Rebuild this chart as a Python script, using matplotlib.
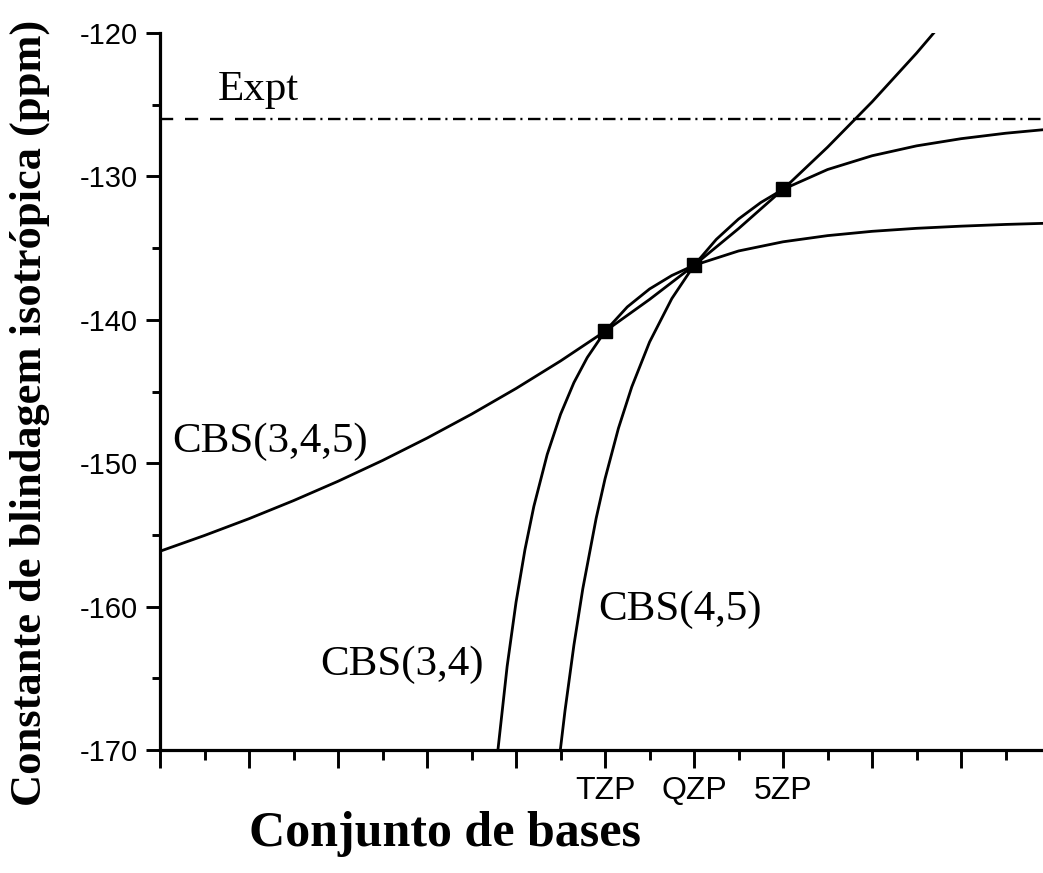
import matplotlib
matplotlib.use("Agg")
import matplotlib.pyplot as plt
from matplotlib.ticker import MultipleLocator, FixedLocator

# ---- data ----
basis_x = [3, 4, 5]
basis_labels = ["TZP", "QZP", "5ZP"]
basis_values = [-140.8, -136.2, -130.9]

expt_value = -126.0

cbs345_x = [-2.0, -1.5, -1.0, -0.5, 0.0, 0.5, 1.0, 1.5, 2.0, 2.5, 3.0, 3.5, 4.0, 4.5, 5.0, 5.5, 6.0, 6.5, 7.0]
cbs345_y = [-156.14, -155.04, -153.87, -152.61, -151.26, -149.81, -148.25, -146.58, -144.79, -142.87,
            -140.80, -138.58, -136.20, -133.64, -130.90, -127.96, -124.80, -121.40, -117.76]

cbs34_x = [1.78, 1.9, 2.0, 2.1, 2.2, 2.35, 2.5, 2.65, 2.8, 3.0, 3.25, 3.5, 3.75, 4.0, 4.5, 5.0, 5.5, 6.0, 6.5, 7.0, 7.5, 8.0]
cbs34_y = [-170.92, -164.16, -159.69, -156.03, -153.01, -149.39, -146.59, -144.38, -142.63, -140.80, -139.10,
           -137.85, -136.91, -136.20, -135.20, -134.56, -134.13, -133.83, -133.62, -133.47, -133.35, -133.26]

cbs45_x = [2.48, 2.55, 2.65, 2.75, 2.9, 3.0, 3.15, 3.3, 3.5, 3.75, 4.0, 4.25, 4.5, 4.75, 5.0, 5.5, 6.0, 6.5, 7.0, 7.5, 8.0]
cbs45_y = [-170.91, -167.26, -162.69, -158.75, -153.84, -151.08, -147.57, -144.68, -141.55, -138.52, -136.20,
           -134.39, -132.97, -131.82, -130.90, -129.52, -128.56, -127.87, -127.37, -126.99, -126.70]

labels_text = ["Expt", "CBS(3,4,5)", "CBS(3,4)", "CBS(4,5)"]
labels_pos = [(-1.35, -124.7), (-1.865, -149.2), (-0.20, -164.8), (2.92, -160.9)]

xmin, xmax = -2.0, 7.92
ymin, ymax = -170.0, -120.0
expt_split = -0.95

# ---- figure ----
plt.rcParams["lines.scale_dashes"] = False
plt.rcParams["axes.unicode_minus"] = False
fig = plt.figure(figsize=(10.43, 8.73), dpi=100)
ax = fig.add_axes([160 / 1043, 1 - 750 / 873, 1 - 160 / 1043, (750 - 33) / 873])

lw = 2.0
ax.plot(cbs345_x, cbs345_y, color="black", lw=lw, solid_joinstyle="round")
ax.plot(cbs34_x, cbs34_y, color="black", lw=lw, solid_joinstyle="round")
ax.plot(cbs45_x, cbs45_y, color="black", lw=lw, solid_joinstyle="round")

ax.plot([xmin, expt_split], [expt_value, expt_value], color="black", lw=1.7,
        linestyle=(0, (9.5, 8.5)))
ax.plot([expt_split, xmax], [expt_value, expt_value], color="black", lw=1.7,
        linestyle=(0, (9.0, 3.5, 1.5, 4.0)))

ax.plot(basis_x, basis_values, linestyle="none", marker="s", markersize=10,
        color="black")

for t, (x, y) in zip(labels_text, labels_pos):
    ax.text(x, y, t, fontsize=31, family="Liberation Serif", va="baseline", ha="left")

ax.set_xlim(xmin, xmax)
ax.set_ylim(ymin, ymax)

ax.xaxis.set_major_locator(FixedLocator(list(range(-2, 8))))
ax.xaxis.set_minor_locator(FixedLocator([v + 0.5 for v in range(-2, 8)]))
tick_labels = []
for v in range(-2, 8):
    tick_labels.append(basis_labels[basis_x.index(v)] if v in basis_x else "")
ax.set_xticklabels(tick_labels)
ax.yaxis.set_major_locator(MultipleLocator(10))
ax.yaxis.set_minor_locator(MultipleLocator(5))

for s in ["top", "right"]:
    ax.spines[s].set_visible(False)
for s in ["left", "bottom"]:
    ax.spines[s].set_linewidth(2.3)

ax.tick_params(axis="x", which="major", direction="out", length=13, width=2.1, pad=6)
ax.tick_params(axis="x", which="minor", direction="out", length=7, width=2.1)
ax.tick_params(axis="y", which="major", direction="out", length=10, width=2.1, pad=6)
ax.tick_params(axis="y", which="minor", direction="out", length=6, width=2.1)
for lab in ax.get_xticklabels():
    lab.set_fontfamily("Liberation Sans")
    lab.set_fontsize(23)
for lab in ax.get_yticklabels():
    lab.set_fontfamily("Liberation Sans")
    lab.set_fontsize(21)

fig.text(445 / 1043, 1 - 834 / 873, "Conjunto de bases", fontsize=36, fontweight="bold",
         family="Liberation Serif", ha="center", va="center")
fig.text(30 / 1043, 1 - 413 / 873, "Constante de blindagem isotrópica (ppm)", fontsize=32,
         fontweight="bold", family="Liberation Serif", ha="center", va="center", rotation=90)

fig.savefig("out.png", dpi=100)
